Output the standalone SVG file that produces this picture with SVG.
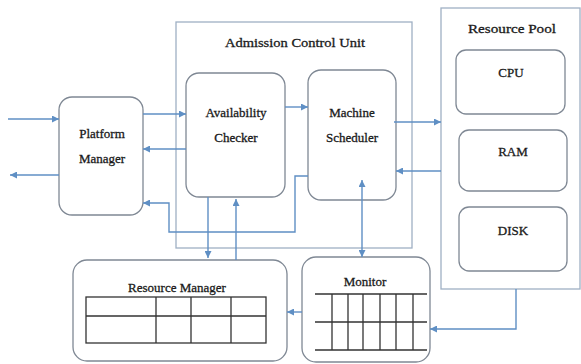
<svg xmlns="http://www.w3.org/2000/svg" width="581" height="364" viewBox="0 0 581 364">
<style>
.node{fill:#fff;stroke:#7f8894;stroke-width:1.3}
.cont{fill:#fff;stroke:#9fb0c4;stroke-width:1.3}
text{font-family:'Liberation Serif','DejaVu Serif','Times New Roman',serif;font-size:13px;fill:#1a1a1a;stroke:#1a1a1a;stroke-width:0.3;text-anchor:middle}
.conn{fill:none;stroke:#5f8fc4;stroke-width:1.4}
.grid{stroke:#333;stroke-width:1.3;fill:none}
</style>
<defs>
<marker id="ah" viewBox="0 0 10 10" refX="10" refY="5" markerWidth="8" markerHeight="7" markerUnits="userSpaceOnUse" orient="auto-start-reverse">
<path d="M0,0 L10,5 L0,10 z" fill="#5f8fc4"/>
</marker>
</defs>
<rect width="581" height="364" fill="#fff"/>
<g id="admission-control-unit">
<rect class="cont" x="176" y="22" width="236" height="226"/>
<text x="295" y="47" textLength="140" lengthAdjust="spacingAndGlyphs">Admission Control Unit</text>
</g>
<g id="resource-pool">
<rect class="cont" x="441" y="8" width="139" height="281"/>
<text x="512" y="33" textLength="88" lengthAdjust="spacingAndGlyphs">Resource Pool</text>
</g>
<g id="platform-manager">
<rect class="node" x="59" y="97" width="84" height="118" rx="13"/>
<text x="102" y="138">Platform</text>
<text x="102" y="163">Manager</text>
</g>
<g id="availability-checker">
<rect class="node" x="186" y="73" width="99" height="124" rx="13"/>
<text x="236" y="117">Availability</text>
<text x="236" y="142">Checker</text>
</g>
<g id="machine-scheduler">
<rect class="node" x="308" y="70" width="88" height="130" rx="13"/>
<text x="352" y="117">Machine</text>
<text x="352" y="142">Scheduler</text>
</g>
<g id="cpu">
<rect class="node" x="456" y="50" width="109" height="64" rx="10"/>
<text x="511" y="77">CPU</text>
</g>
<g id="ram">
<rect class="node" x="459" y="130" width="108" height="61" rx="10"/>
<text x="513" y="156">RAM</text>
</g>
<g id="disk">
<rect class="node" x="459" y="207" width="108" height="64" rx="10"/>
<text x="513" y="235">DISK</text>
</g>
<g id="resource-manager">
<rect class="node" x="73" y="260" width="214" height="101" rx="14"/>
<text x="177" y="292">Resource Manager</text>
<rect class="grid" x="86" y="297" width="180" height="46"/>
<path class="grid" d="M86,316 H266 M156,297 V343 M191,297 V343 M231,297 V343"/>
</g>
<g id="monitor">
<rect class="node" x="302" y="257" width="128" height="105" rx="14"/>
<text x="365" y="286">Monitor</text>
<path class="grid" d="M315,294 H427 M315,322 H427 M315,350 H427 M332,294 V350 M348,294 V350 M363,294 V350 M380,294 V350 M396,294 V350 M413,294 V350"/>
</g>
<g id="connectors">
<path class="conn" d="M8,119 H59" marker-end="url(#ah)"/>
<path class="conn" d="M59,175 H10" marker-end="url(#ah)"/>
<path class="conn" d="M143,114 H186" marker-end="url(#ah)"/>
<path class="conn" d="M186,149 H143" marker-end="url(#ah)"/>
<path class="conn" d="M285,107 H308" marker-end="url(#ah)"/>
<path class="conn" d="M394,122 H441" marker-end="url(#ah)"/>
<path class="conn" d="M441,171 H396" marker-end="url(#ah)"/>
<path class="conn" d="M308,176 H295 V232 H169 V203 H143" marker-end="url(#ah)"/>
<path class="conn" d="M208,197 V258" marker-end="url(#ah)"/>
<path class="conn" d="M236,260 V199" marker-end="url(#ah)"/>
<path class="conn" d="M362,257 V180" marker-start="url(#ah)" marker-end="url(#ah)"/>
<path class="conn" d="M302,312 H287" marker-end="url(#ah)"/>
<path class="conn" d="M516,289 V329 H430" marker-end="url(#ah)"/>
</g>
</svg>
